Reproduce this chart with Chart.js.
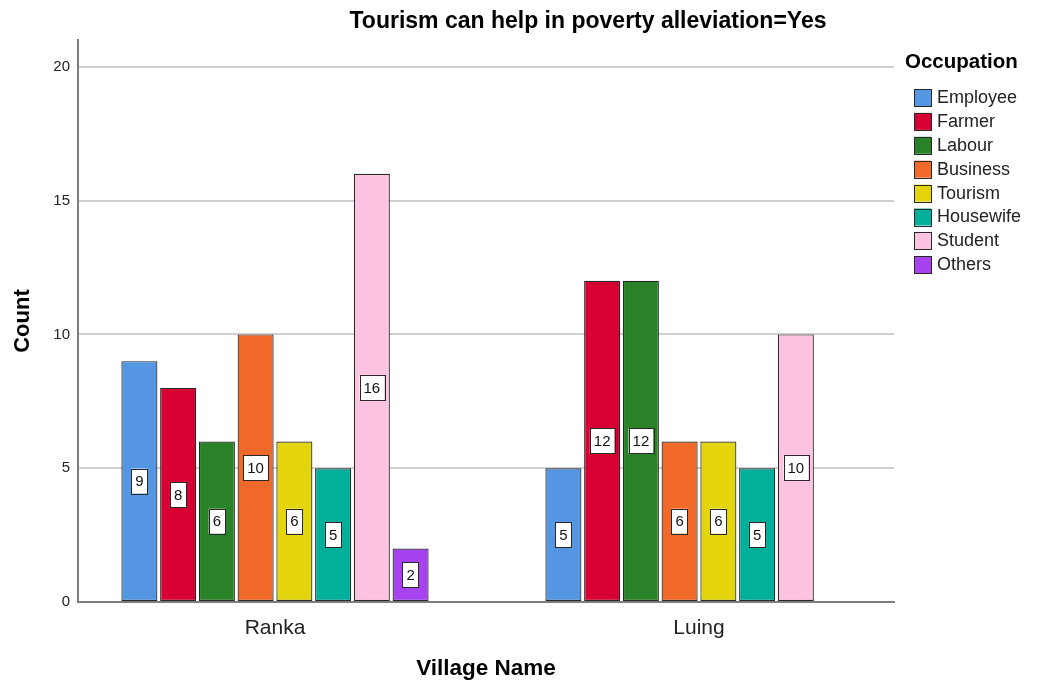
<!DOCTYPE html>
<html>
<head>
<meta charset="utf-8">
<title>Tourism can help in poverty alleviation=Yes</title>
<script src="https://cdn.jsdelivr.net/npm/chart.js@4/dist/chart.umd.min.js"></script>
<style>
    html, body { margin: 0; padding: 0; background: #fff; }
    #wrap { width: 1037px; height: 686px; }
</style>
</head>
<body>
<div id="wrap"><canvas id="data-chart" width="1037" height="686"></canvas></div>
<script>
const villages = ['Ranka', 'Luing'];
const occupations = ['Employee', 'Farmer', 'Labour', 'Business', 'Tourism', 'Housewife', 'Student', 'Others'];

// counts per occupation, in village order (Ranka, Luing)
const employee = [9, 5];
const farmer = [8, 12];
const labour = [6, 12];
const business = [10, 6];
const tourism = [6, 6];
const housewife = [5, 5];
const student = [16, 10];
const others = [2, null];

const y_ticks = [0, 5, 10, 15, 20];

const COLORS = {
    employee: 'rgb(84,150,226)',
    farmer: 'rgb(214,0,50)',
    labour: 'rgb(42,130,40)',
    business: 'rgb(242,106,42)',
    tourism: 'rgb(227,212,12)',
    housewife: 'rgb(0,176,154)',
    student: 'rgb(255,194,224)',
    others: 'rgb(166,66,240)',
    border: 'rgb(40,40,40)',
    grid: 'rgb(208,208,208)',
    axis: 'rgb(125,125,125)',
    text: 'rgb(34,34,34)',
};

const FONT = "'Liberation Sans', Arial, sans-serif";

const series = [employee, farmer, labour, business, tourism, housewife, student, others];
const fills = [COLORS.employee, COLORS.farmer, COLORS.labour, COLORS.business,
               COLORS.tourism, COLORS.housewife, COLORS.student, COLORS.others];

const datasets = occupations.map((name, i) => ({
    label: name,
    data: series[i],
    backgroundColor: fills[i],
    borderColor: COLORS.border,
    borderWidth: 1.2,
    borderSkipped: false,
    barPercentage: 0.93,
    categoryPercentage: 0.731,
}));

// SPSS leaves a little less room on the outer sides of the groups than
// Chart.js does, so widen the category spacing a bit after layout
const groupSpacing = {
    id: 'groupSpacing',
    beforeDatasetsUpdate(chart) {
        const x = chart.scales.x;
        x._startValue = -0.4646;
        x._valueRange = 1.9245;
    }
};

// white boxes with the count in the middle of every bar
const barLabels = {
    id: 'barLabels',
    afterDatasetsDraw(chart) {
        const ctx = chart.ctx;
        ctx.save();
        ctx.font = `15px ${FONT}`;
        ctx.textAlign = 'center';
        ctx.textBaseline = 'middle';
        chart.data.datasets.forEach((ds, i) => {
            const meta = chart.getDatasetMeta(i);
            meta.data.forEach((bar, j) => {
                const v = ds.data[j];
                if (v === null || v === undefined) return;
                const cy = (bar.y + bar.base) / 2;
                const w = ctx.measureText(String(v)).width + 8;
                const h = 25;
                ctx.fillStyle = '#fff';
                ctx.fillRect(bar.x - w / 2, cy - h / 2, w, h);
                ctx.strokeStyle = COLORS.border;
                ctx.lineWidth = 1;
                ctx.strokeRect(Math.round(bar.x - w / 2) + 0.5, Math.round(cy - h / 2) + 0.5, Math.round(w), h);
                ctx.fillStyle = '#111';
                ctx.fillText(String(v), bar.x, cy + 1);
            });
        });
        ctx.restore();
    }
};

// chart title and the legend on the right side
const decorations = {
    id: 'decorations',
    afterDraw(chart) {
        const ctx = chart.ctx;
        const area = chart.chartArea;
        ctx.save();

        ctx.fillStyle = '#000';
        ctx.font = `bold 23px ${FONT}`;
        ctx.textAlign = 'center';
        ctx.textBaseline = 'middle';
        ctx.fillText('Tourism can help in poverty alleviation=Yes', area.left + area.width * 0.625, 22);

        const lx = area.right + 11;
        ctx.textAlign = 'left';
        ctx.font = `bold 20.5px ${FONT}`;
        ctx.fillText('Occupation', lx, 62);

        ctx.font = `18px ${FONT}`;
        chart.data.datasets.forEach((ds, i) => {
            const cy = 97 + i * 23.9;
            ctx.fillStyle = ds.backgroundColor;
            ctx.fillRect(lx + 9, cy - 8, 17, 17);
            ctx.strokeStyle = COLORS.border;
            ctx.lineWidth = 1;
            ctx.strokeRect(Math.round(lx + 9) + 0.5, Math.round(cy - 8) + 0.5, 17, 17);
            ctx.fillStyle = COLORS.text;
            ctx.fillText(ds.label, lx + 32, cy + 1);
        });
        ctx.restore();
    }
};

const chart = new Chart(document.getElementById('data-chart'), {
    type: 'bar',
    data: {
        labels: villages,
        datasets: datasets,
    },
    plugins: [groupSpacing, barLabels, decorations],
    options: {
        responsive: false,
        animation: false,
        layout: {
            padding: { top: 40, right: 143, left: 0, bottom: 0 }
        },
        plugins: {
            legend: { display: false },
            title: { display: false },
            tooltip: { enabled: false },
        },
        scales: {
            x: {
                offset: true,
                grid: { display: false, drawTicks: false },
                border: { display: true, color: COLORS.axis, width: 2 },
                ticks: {
                    color: COLORS.text,
                    padding: 14,
                    font: { family: FONT, size: 21 },
                },
                title: {
                    display: true,
                    text: 'Village Name',
                    color: '#000',
                    font: { family: FONT, size: 22.5, weight: 'bold' },
                    padding: { top: 4, bottom: 4 },
                },
                afterFit: (scale) => { scale.height = 84; },
            },
            y: {
                min: 0,
                max: 21,
                grid: { color: COLORS.grid, lineWidth: 2, drawTicks: false },
                border: { display: true, color: COLORS.axis, width: 2 },
                ticks: {
                    stepSize: 5,
                    includeBounds: false,
                    color: COLORS.text,
                    padding: 8,
                    font: { family: FONT, size: 15 },
                    callback: (v) => y_ticks.includes(v) ? String(v) : '',
                },
                title: {
                    display: true,
                    text: 'Count',
                    color: '#000',
                    font: { family: FONT, size: 22, weight: 'bold' },
                    padding: { top: 10, bottom: 4 },
                },
                afterFit: (scale) => { scale.width = 78; },
            },
        },
    },
});
</script>
</body>
</html>
